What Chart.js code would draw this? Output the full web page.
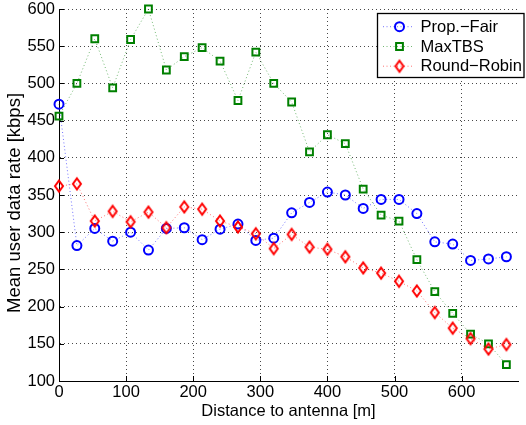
<!DOCTYPE html>
<html>
<head>
<meta charset="utf-8">
<script src="https://cdn.jsdelivr.net/npm/chart.js@4/dist/chart.umd.min.js"></script>
<style>
  html, body { margin: 0; padding: 0; background: #fff; overflow: hidden; }
  #wrap { width: 526px; height: 425px; }
</style>
</head>
<body>
<div id="wrap"><canvas id="c" width="526" height="425"></canvas></div>
<script>
// ---- data ----
const distance = [0, 26.7, 53.3, 80, 106.7, 133.3, 160, 186.7, 213.3, 240, 266.7, 293.3, 320,
                  346.7, 373.3, 400, 426.7, 453.3, 480, 506.7, 533.3, 560, 586.7, 613.3, 640, 666.7];
const propFair   = [472, 282, 305, 288, 300, 276, 305, 306, 290, 304, 311, 289, 292,
                    326, 340, 354, 350, 332, 344, 344, 325, 287, 284, 262, 264, 267];
const maxTBS     = [456, 500, 560, 494, 559, 600, 518, 536, 548, 530, 477, 542, 500,
                    475, 408, 431, 419, 358, 323, 315, 263, 220, 191, 163, 150, 122];
const roundRobin = [362, 365, 315, 328, 314, 327, 306, 334, 331, 315, 307, 298, 278,
                    297, 280, 277, 267, 252, 245, 234, 221, 192, 171, 157, 143, 149];
const seriesNames = ['Prop.\u2212Fair', 'MaxTBS', 'Round\u2212Robin'];
const xTicks = [0, 100, 200, 300, 400, 500, 600];
const yTicks = [100, 150, 200, 250, 300, 350, 400, 450, 500, 550, 600];
const xTitle = 'Distance to antenna [m]';
const yTitle = 'Mean user data rate [kbps]';

const FONT = '"Liberation Sans", Arial, Helvetica, sans-serif';

// diamond marker image
function makeDiamond(color) {
  const cv = document.createElement('canvas');
  cv.width = 12; cv.height = 16;
  const g = cv.getContext('2d');
  g.strokeStyle = color; g.lineWidth = 2;
  g.beginPath();
  g.moveTo(6, 2.5); g.lineTo(10, 8); g.lineTo(6, 13.5); g.lineTo(2, 8); g.closePath();
  g.stroke();
  return cv;
}
const diamondRed = makeDiamond('#ff0000');

function pts(ys) { return distance.map((x, i) => ({ x: x, y: ys[i] })); }

const colors = ['#0000ff', '#008000', '#ff0000'];
const lineColors = ['rgba(0,0,255,0.55)', 'rgba(0,128,0,0.55)', 'rgba(255,0,0,0.55)'];

const datasets = [
  { label: seriesNames[0], data: pts(propFair), borderColor: lineColors[0], pointBorderColor: colors[0],
    pointBackgroundColor: 'rgba(0,0,0,0)', pointStyle: 'circle', pointRadius: 4.5, pointBorderWidth: 2, order: 3 },
  { label: seriesNames[1], data: pts(maxTBS), borderColor: lineColors[1], pointBorderColor: colors[1],
    pointBackgroundColor: 'rgba(0,0,0,0)', pointStyle: 'rect', pointRadius: 4.8, pointBorderWidth: 2, order: 2 },
  { label: seriesNames[2], data: pts(roundRobin), borderColor: lineColors[2], pointBorderColor: colors[2],
    pointBackgroundColor: 'rgba(0,0,0,0)', pointStyle: diamondRed, pointRadius: 6, pointBorderWidth: 2, order: 1 }
].map(d => Object.assign({
  borderWidth: 1, borderDash: [1, 2.5], fill: false, tension: 0, clip: false, pointHoverRadius: d.pointRadius
}, d));

// inward tick marks (MATLAB style)
const innerTicks = {
  id: 'innerTicks',
  beforeDatasetsDraw(chart) {
    const ctx = chart.ctx, a = chart.chartArea;
    const xs = chart.scales.x, ys = chart.scales.y;
    ctx.save();
    ctx.strokeStyle = '#000'; ctx.lineWidth = 1;
    ctx.beginPath();
    yTicks.forEach(v => {
      const p = Math.round(ys.getPixelForValue(v)) + 0.5;
      ctx.moveTo(a.left, p); ctx.lineTo(a.left + 5, p);
    });
    xTicks.forEach(v => {
      const p = Math.round(xs.getPixelForValue(v)) + 0.5;
      ctx.moveTo(p, a.bottom); ctx.lineTo(p, a.bottom - 5);
    });
    ctx.stroke();
    ctx.restore();
  }
};

// y axis title (MATLAB places it slightly lower than axis center)
const yTitlePlugin = {
  id: 'yTitlePlugin',
  afterDraw(chart) {
    const ctx = chart.ctx;
    ctx.save();
    ctx.translate(14.5, 203);
    ctx.rotate(-Math.PI / 2);
    ctx.font = '18.5px ' + FONT;
    ctx.fillStyle = '#000';
    ctx.textAlign = 'center';
    ctx.textBaseline = 'middle';
    ctx.fillText(yTitle, 0, 0);
    ctx.restore();
  }
};

function drawMarker(ctx, i, x, y) {
  ctx.save();
  ctx.lineWidth = 2;
  ctx.strokeStyle = colors[i];
  ctx.beginPath();
  if (i === 0) {
    ctx.arc(x, y, 4.5, 0, Math.PI * 2);
    ctx.stroke();
  } else if (i === 1) {
    ctx.rect(x - 3.4, y - 3.4, 6.8, 6.8);
    ctx.stroke();
  } else {
    ctx.drawImage(diamondRed, x - 6, y - 8);
  }
  ctx.restore();
}

const legendPlugin = {
  id: 'customLegend',
  afterDraw(chart) {
    const ctx = chart.ctx;
    const bx = 377.5, by = 13.5, bw = 146.5, bh = 64;
    ctx.save();
    ctx.fillStyle = '#fff';
    ctx.fillRect(bx, by, bw, bh);
    ctx.strokeStyle = '#000';
    ctx.lineWidth = 1.3;
    ctx.strokeRect(bx, by, bw, bh);
    const rows = [26.7, 46.5, 66.2];
    seriesNames.forEach((name, i) => {
      const y = rows[i];
      ctx.save();
      ctx.strokeStyle = lineColors[i];
      ctx.lineWidth = 1;
      ctx.setLineDash([1, 2.5]);
      ctx.beginPath();
      ctx.moveTo(383, y); ctx.lineTo(414, y);
      ctx.stroke();
      ctx.restore();
      drawMarker(ctx, i, 399.5, y);
      ctx.fillStyle = '#000';
      ctx.font = '16.5px ' + FONT;
      ctx.textAlign = 'left';
      ctx.textBaseline = 'middle';
      ctx.fillText(name, 420.5, y + 0.5);
    });
    ctx.restore();
  }
};

const gridColor = 'rgba(40,40,40,0.85)';

new Chart(document.getElementById('c'), {
  type: 'line',
  data: { datasets: datasets },
  plugins: [innerTicks, yTitlePlugin, legendPlugin],
  options: {
    responsive: false,
    animation: false,
    devicePixelRatio: 1,
    layout: { padding: { top: 9, right: 0, left: 0, bottom: 0 } },
    plugins: { legend: { display: false }, tooltip: { enabled: false } },
    scales: {
      x: {
        type: 'linear', min: 0, max: 684,
        afterFit(s) { s.height = 44; s.paddingLeft = 0; s.paddingRight = 0; },
        afterBuildTicks(s) { s.ticks = xTicks.map(v => ({ value: v })); },
        ticks: { color: '#000', font: { family: FONT, size: 16.5 }, padding: 2, maxRotation: 0, autoSkip: false, includeBounds: false },
        grid: { color: gridColor, lineWidth: 1, drawTicks: false },
        border: { display: true, color: '#000', width: 1, dash: [1, 3] },
        title: { display: true, text: xTitle, color: '#000', font: { family: FONT, size: 16.5 }, padding: { top: 0, bottom: 4 } }
      },
      y: {
        type: 'linear', min: 100, max: 600,
        afterFit(s) { s.width = 59; s.paddingTop = 0; s.paddingBottom = 0; },
        afterBuildTicks(s) { s.ticks = yTicks.map(v => ({ value: v })); },
        ticks: { color: '#000', font: { family: FONT, size: 16.5 }, padding: 4, autoSkip: false, includeBounds: false },
        grid: { color: gridColor, lineWidth: 1, drawTicks: false },
        border: { display: true, color: '#000', width: 1, dash: [1, 3] },
        title: { display: false }
      }
    }
  }
});
</script>
</body>
</html>
